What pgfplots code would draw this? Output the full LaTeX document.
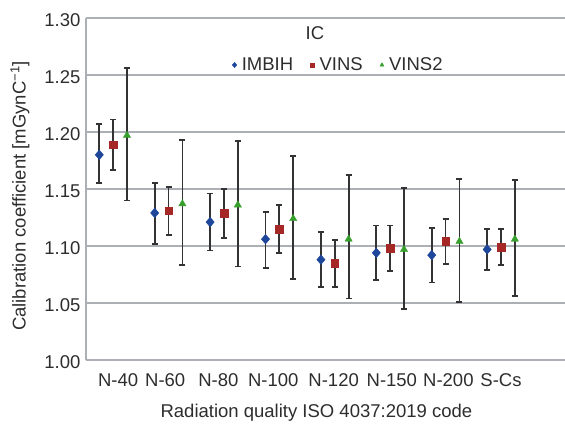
\documentclass[border=0pt]{standalone}
\usepackage{fontspec}
\setmainfont{Liberation Sans}
\usepackage{pgfplots}
\pgfplotsset{compat=1.18}
\definecolor{cIMB}{RGB}{30,70,155}
\definecolor{cVINS}{RGB}{165,40,38}
\definecolor{cVINS2}{RGB}{55,160,45}
\definecolor{gridc}{RGB}{172,176,182}
\definecolor{txt}{RGB}{45,45,45}
\newcommand{\tfont}{\fontsize{18.5}{22}\selectfont}

% x, value, error up, error down
\pgfplotstableread{
x     y      ep     em
-0.25 1.180  0.027  0.025
0.75  1.129  0.026  0.027
1.75  1.121  0.025  0.025
2.75  1.106  0.024  0.025
3.75  1.088  0.024  0.024
4.75  1.094  0.024  0.024
5.75  1.092  0.024  0.024
6.75  1.097  0.018  0.018
}\imbih
\pgfplotstableread{
x     y      ep     em
0     1.189  0.022  0.022
1     1.131  0.021  0.021
2     1.129  0.021  0.022
3     1.115  0.021  0.021
4     1.085  0.020  0.021
5     1.098  0.020  0.020
6     1.104  0.020  0.020
7     1.099  0.016  0.016
}\vins
\pgfplotstableread{
x     y      ep     em
0.25  1.197  0.059  0.057
1.25  1.137  0.056  0.054
2.25  1.136  0.056  0.054
3.25  1.124  0.055  0.053
4.25  1.106  0.056  0.052
5.25  1.097  0.054  0.052
6.25  1.104  0.055  0.053
7.25  1.106  0.052  0.050
}\vinstwo

\begin{document}
\begin{tikzpicture}
\begin{axis}[
  scale only axis, width=479pt, height=342pt,
  xmin=-0.49, xmax=8.155, ymin=1.0, ymax=1.3,
  axis x line*=bottom, axis y line*=left,
  axis line style={gridc, line width=1.3pt},
  ytick={1.00,1.05,...,1.31},
  ymajorgrids, grid style={gridc, line width=1.3pt},
  xtick={0.09,0.94,1.90,2.89,3.98,5.03,6.05,7.0},
  xticklabels={N-40,N-60,N-80,N-100,N-120,N-150,N-200,S-Cs},
  major tick length=0pt,
  tick label style={font=\tfont, text=txt},
  xticklabel style={anchor=base, yshift=-26.7pt},
  yticklabel style={xshift=-2pt, yshift=-2pt,
    /pgf/number format/.cd, fixed, fixed zerofill, precision=2, assume math mode=true},
  xlabel={Radiation quality ISO 4037:2019 code},
  ylabel={Calibration coefficient [mGynC\textsuperscript{−1}]},
  label style={font=\tfont, text=txt},
  xlabel style={at={(axis description cs:0.481,-0.155)}, anchor=center},
  ylabel style={at={(axis description cs:-0.1378,0.4795)}, anchor=center},
  legend columns=3,
  legend style={draw=none, fill=none, font=\tfont, text=txt,
    at={(axis description cs:0.524,0.8626)}, anchor=center,
    /tikz/every even column/.append style={column sep=12pt}},
  legend image code/.code={\path (-5pt,0pt) (5pt,0pt);
    \draw[#1, /tikz/every mark/.append style={scale=0.55}] plot coordinates {(0pt,0pt)};},
  error bars/y dir=both, error bars/y explicit,
  error bars/error bar style={draw=black!80, line width=1.8pt},
  error bars/error mark options={rotate=90, mark size=3pt, line width=1.8pt, draw=black!80},
]
\addplot[only marks, mark=diamond*, color=cIMB, mark size=4.8pt, mark options={xscale=1.15}]
  table[x=x, y=y, y error plus=ep, y error minus=em]{\imbih};
\addlegendentry{IMBIH}
\addplot[only marks, mark=square*, color=cVINS, mark size=3.8pt]
  table[x=x, y=y, y error plus=ep, y error minus=em]{\vins};
\addlegendentry{VINS}
\addplot[only marks, mark=triangle*, color=cVINS2, mark size=4.2pt]
  table[x=x, y=y, y error plus=ep, y error minus=em]{\vinstwo};
\addlegendentry{VINS2}
\node[font=\tfont, text=txt] at (axis description cs:0.478,0.956) {IC};
\end{axis}
\pgfresetboundingbox
\path[use as bounding box] (-86pt,-64pt) rectangle (479pt,360pt);
\end{tikzpicture}
\end{document}
